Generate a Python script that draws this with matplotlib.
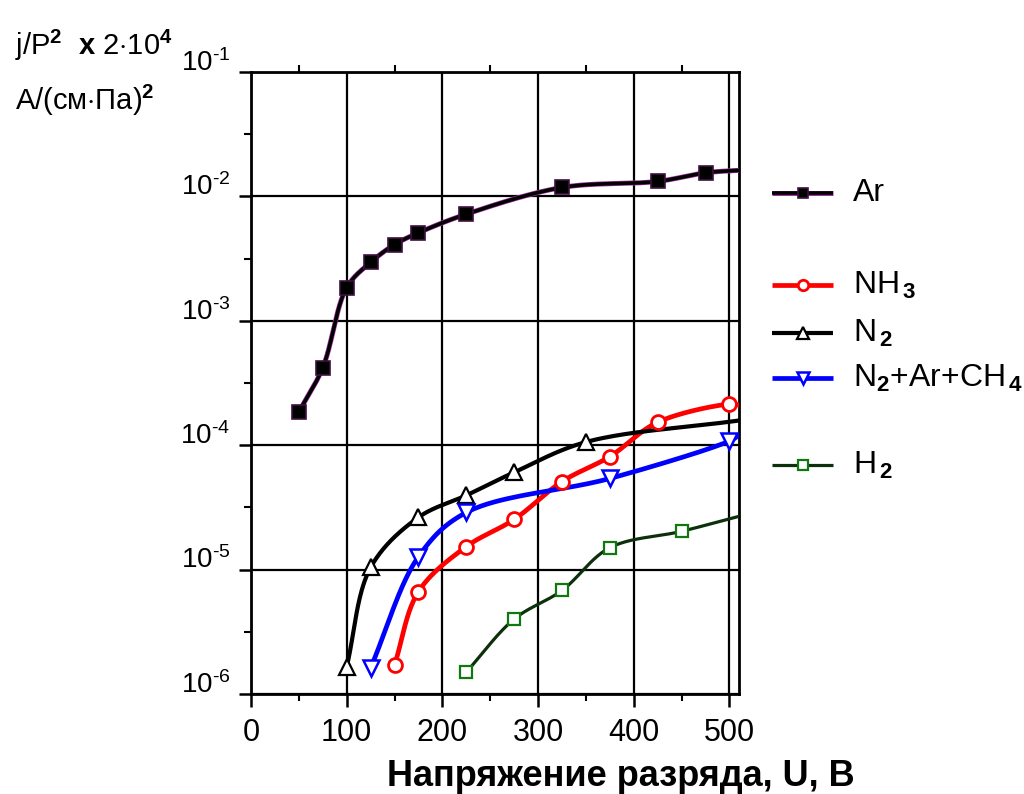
import numpy as np
import matplotlib
matplotlib.use("Agg")
import matplotlib.pyplot as plt
import matplotlib.patheffects as pe
from matplotlib.lines import Line2D
from matplotlib.ticker import FixedLocator, NullFormatter, FuncFormatter
import matplotlib.transforms as mtransforms

plt.rcParams['font.family'] = ['Liberation Sans', 'DejaVu Sans']
plt.rcParams['mathtext.fontset'] = 'custom'
plt.rcParams['mathtext.rm'] = 'Liberation Sans'
plt.rcParams['mathtext.it'] = 'Liberation Sans'
plt.rcParams['mathtext.bf'] = 'Liberation Sans:bold'

# measured points (voltage U, V ; current density j/P^2)
ar_u = [50, 75, 100, 125, 150, 175, 225, 325, 425, 475]
ar_j = [1.85e-4, 4.2e-4, 1.85e-3, 2.95e-3, 4.1e-3, 5.1e-3, 7.2e-3, 1.18e-2, 1.32e-2, 1.55e-2]

nh3_u = [150, 175, 225, 275, 325, 375, 425, 500]
nh3_j = [1.71e-6, 6.65e-6, 1.53e-5, 2.53e-5, 5.1e-5, 8.1e-5, 1.53e-4, 2.14e-4]

n2_u = [100, 125, 175, 225, 275, 350]
n2_j = [1.65e-6, 1.04e-5, 2.63e-5, 3.95e-5, 6.05e-5, 1.06e-4]

mix_u = [125, 175, 225, 375, 500]
mix_j = [1.62e-6, 1.27e-5, 2.88e-5, 5.4e-5, 1.08e-4]

h2_u = [225, 275, 325, 375, 450]
h2_j = [1.5e-6, 4.0e-6, 6.8e-6, 1.5e-5, 2.03e-5]

# where each smoothed curve leaves the plot at the right edge
edge_u = 510
edge_j = {'Ar': 1.62e-2, 'NH3': 2.1e-4, 'N2': 1.58e-4, 'mix': 1.2e-4, 'H2': 2.68e-5}

labels = {'Ar': 'Ar',
          'NH3': r'NH$_{\,\mathbf{3}}$',
          'N2': r'N$_{\,\mathbf{2}}$',
          'mix': r'N$_{\mathbf{2}}$+Ar+CH$_{\,\mathbf{4}}$',
          'H2': r'H$_{\,\mathbf{2}}$'}


def catmull_rom(P, n=40, alpha=0.5):
    # centripetal Catmull-Rom through the points P (N x 2)
    P = np.vstack([2 * P[0] - P[1], P, 2 * P[-1] - P[-2]])
    out = []
    for i in range(1, len(P) - 2):
        p0, p1, p2, p3 = P[i - 1], P[i], P[i + 1], P[i + 2]
        t0 = 0.0
        t1 = t0 + np.linalg.norm(p1 - p0) ** alpha
        t2 = t1 + np.linalg.norm(p2 - p1) ** alpha
        t3 = t2 + np.linalg.norm(p3 - p2) ** alpha
        t = np.linspace(t1, t2, n)[:, None]
        a1 = (t1 - t) / (t1 - t0) * p0 + (t - t0) / (t1 - t0) * p1
        a2 = (t2 - t) / (t2 - t1) * p1 + (t - t1) / (t2 - t1) * p2
        a3 = (t3 - t) / (t3 - t2) * p2 + (t - t2) / (t3 - t2) * p3
        b1 = (t2 - t) / (t2 - t0) * a1 + (t - t0) / (t2 - t0) * a2
        b2 = (t3 - t) / (t3 - t1) * a2 + (t - t1) / (t3 - t1) * a3
        out.append((t2 - t) / (t2 - t1) * b1 + (t - t1) / (t2 - t1) * b2)
    return np.vstack(out)


def curve(u, j, jend):
    uu = list(u)
    jj = list(j)
    if uu[-1] < edge_u:
        uu.append(edge_u)
        jj.append(jend)
    # screen-like units: ~0.957 px per volt, 124 px per decade
    P = np.column_stack([np.array(uu, float) * 0.957, np.log10(jj) * 124])
    C = catmull_rom(P)
    return C[:, 0] / 0.957, 10 ** (C[:, 1] / 124)


fig = plt.figure(figsize=(10.24, 7.94), dpi=100)
ax = fig.add_axes([251 / 1024, 1 - 694 / 794, 488 / 1024, 622 / 794])

series = [
    ('Ar', ar_u, ar_j, dict(color='black', lw=2.6, marker='s', mfc='black', mec='#401040', ms=10),
     [pe.Stroke(linewidth=3.6, foreground='#a030a0'), pe.Normal()]),
    ('NH3', nh3_u, nh3_j, dict(color='#ff0000', lw=3.4, marker='o', mfc='white', mec='#ff0000', ms=10, mew=2), None),
    ('N2', n2_u, n2_j, dict(color='black', lw=3.0, marker='^', mfc='white', mec='black', ms=11, mew=1.6), None),
    ('mix', mix_u, mix_j, dict(color='#0000ff', lw=3.4, marker='v', mfc='white', mec='#0000ff', ms=11, mew=1.8), None),
    ('H2', h2_u, h2_j, dict(color='#0c300c', lw=2.3, marker='s', mfc='white', mec='#117711', ms=9, mew=1.6), None),
]

for key, u, j, st, eff in series:
    xs, ys = curve(u, j, edge_j[key])
    ln, = ax.plot(xs, ys, color=st['color'], lw=st['lw'], zorder=3, solid_capstyle='round')
    if eff:
        ln.set_path_effects(eff)
    ax.plot(u, j, ls='none', marker=st['marker'], mfc=st['mfc'], mec=st['mec'],
            ms=st['ms'], mew=st.get('mew', 1.2), zorder=4)

ax.set_yscale('log')
ax.set_xlim(0, 510)
ax.set_ylim(1e-6, 1e-1)

ax.set_xticks([0, 100, 200, 300, 400, 500])
ax.xaxis.set_minor_locator(FixedLocator([50, 150, 250, 350, 450]))
ax.yaxis.set_major_locator(FixedLocator([1e-6, 1e-5, 1e-4, 1e-3, 1e-2, 1e-1]))
ax.yaxis.set_minor_locator(FixedLocator(10 ** (np.arange(-6, -1) + 0.5)))
ax.yaxis.set_minor_formatter(NullFormatter())
ax.yaxis.set_major_formatter(FuncFormatter(lambda v, p: '10$^{\u2010%d}$' % -round(np.log10(v))))

ax.tick_params(axis='x', which='major', direction='out', length=9, width=1.8, labelsize=22, pad=8)
ax.tick_params(axis='x', which='minor', direction='out', length=5, width=1.5)
ax.tick_params(axis='y', which='major', direction='out', length=9, width=1.8, labelsize=20, pad=6)
ax.tick_params(axis='y', which='minor', direction='out', length=5, width=1.5)
ax.tick_params(axis='x', which='minor', top=True)

off = mtransforms.ScaledTranslation(0, 12 / 100, fig.dpi_scale_trans)
for lab in ax.get_yticklabels():
    lab.set_transform(lab.get_transform() + off)

ax.grid(True, which='major', color='black', lw=1.6)
for s in ax.spines.values():
    s.set_linewidth(2)

fig.text(621 / 1024, 1 - 776 / 794, 'Напряжение разряда, U, В', fontsize=26, fontweight='bold',
         ha='center', va='center')

fig.text(15 / 1024, 1 - 55 / 794, r'j/P$^{\mathbf{2}}$  $\mathbf{x}$ 2$\cdot$10$^{\mathbf{4}}$', fontsize=21)
fig.text(15 / 1024, 1 - 110 / 794, r'A/(см$\cdot$Па)$^{\mathbf{2}}$', fontsize=21)

# legend drawn by hand (uneven spacing in the original)
leg_y = {'Ar': 193, 'NH3': 285, 'N2': 333, 'mix': 378, 'H2': 465}
for key, u, j, st, eff in series:
    yy = 1 - leg_y[key] / 794
    ln = Line2D([772 / 1024, 833 / 1024], [yy, yy], transform=fig.transFigure,
                color=st['color'], lw=st['lw'], solid_capstyle='butt')
    if eff:
        ln.set_path_effects(eff)
    fig.add_artist(ln)
    mk = Line2D([803 / 1024], [yy], transform=fig.transFigure, ls='none', marker=st['marker'],
                mfc=st['mfc'], mec=st['mec'], ms=st['ms'] * 0.75, mew=st.get('mew', 1.2))
    fig.add_artist(mk)
    fig.text(853 / 1024, yy, labels[key], fontsize=23, va='center', ha='left')

fig.savefig('out.png', dpi=100)
